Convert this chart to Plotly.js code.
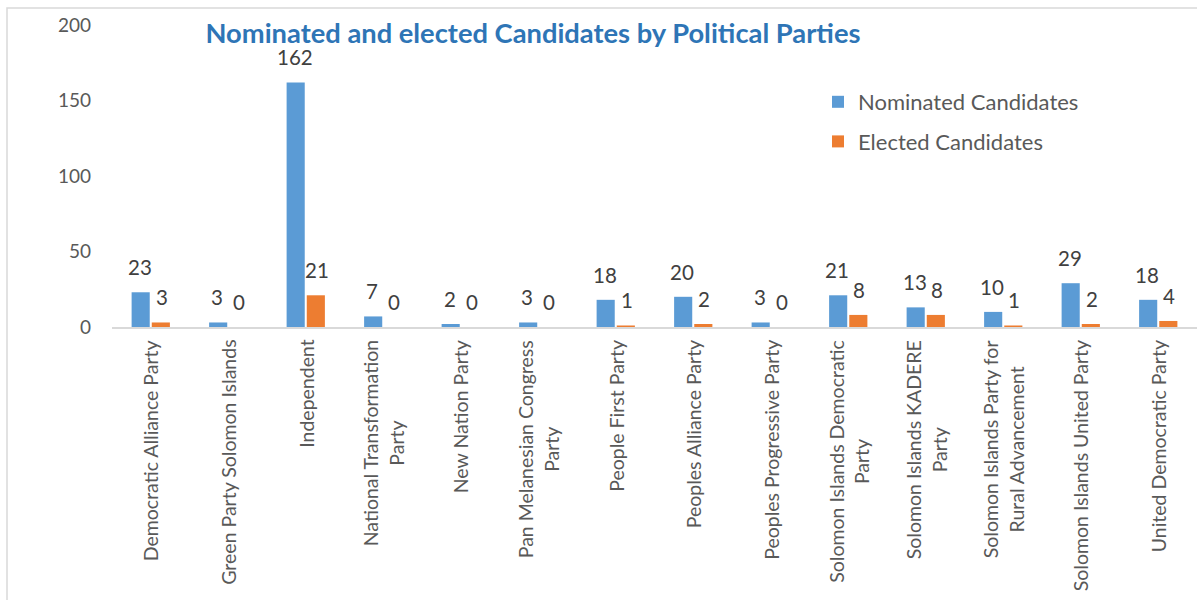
<!DOCTYPE html>
<html><head><meta charset="utf-8">
<script src="https://cdn.plot.ly/plotly-3.0.1.min.js"></script>
<style>html,body{margin:0;padding:0;background:#fff}</style>
</head><body>
<div id="chart" style="width:1197px;height:600px"></div>
<script>
const categories = [
  "Democratic Alliance Party",
  "Green Party Solomon Islands",
  "Independent",
  "National Transformation<br>Party",
  "New Nation Party",
  "Pan Melanesian Congress<br>Party",
  "People First Party",
  "Peoples Alliance Party",
  "Peoples Progressive Party",
  "Solomon Islands Democratic<br>Party",
  "Solomon Islands KADERE<br>Party",
  "Solomon Islands Party for<br>Rural Advancement",
  "Solomon Islands United Party",
  "United Democratic Party"
];
const nominated = [23, 3, 162, 7, 2, 3, 18, 20, 3, 21, 13, 10, 29, 18];
const elected   = [3, 0, 21, 0, 0, 0, 1, 2, 0, 8, 8, 1, 2, 4];
const yTicks = [0, 50, 100, 150, 200];

const FONT = "Lato, 'Open Sans', sans-serif";
const BLUE = "#5B9BD5", ORANGE = "#ED7D31";

const traces = [
  {type: "bar", name: "Nominated Candidates", x: categories, y: nominated,
   marker: {color: BLUE}, legendgroup: "a", hoverinfo: "x+y"},
  {type: "bar", name: "Elected Candidates", x: categories, y: elected,
   marker: {color: ORANGE}, legendgroup: "b", hoverinfo: "x+y"}
];

const ann = [];
[nominated, elected].forEach((arr, s) => {
  arr.forEach((v, i) => {
    ann.push({x: categories[i], y: v, xref: "x", yref: "y", text: String(v),
      showarrow: false, yanchor: "bottom", xshift: s === 0 ? -11 : 11, yshift: 11,
      font: {family: FONT, size: 20.5, color: "#404040"}});
  });
});
categories.forEach((c) => {
  ann.push({x: c, y: 0, xref: "x", yref: "paper", text: c, showarrow: false,
    textangle: -90, xanchor: "center", yanchor: "top", yshift: -11, align: "center",
    font: {family: FONT, size: 19.5, color: "#595959"}});
});

const layout = {
  width: 1197, height: 600,
  margin: {l: 112, r: 0, t: 25, b: 273, pad: 0},
  paper_bgcolor: "#fff", plot_bgcolor: "#fff",
  barmode: "group", bargap: 0.48, bargroupgap: 0.1,
  title: {text: "<b>Nominated and elected Candidates by Political Parties</b>",
    x: 533/1197, xref: "container", xanchor: "center",
    y: 1 - 33/600, yref: "container", yanchor: "middle",
    font: {family: FONT, size: 27.3, color: "#2E75B6"}},
  xaxis: {showticklabels: false, showgrid: false, showline: true, linecolor: "#D9D9D9", linewidth: 1.5,
    ticks: "", zeroline: false},
  yaxis: {range: [0, 200], tickvals: yTicks, ticktext: yTicks.map(String),
    showgrid: false, zeroline: false, showline: false, ticks: "", ticklabelstandoff: 20,
    tickfont: {family: FONT, size: 19, color: "#595959"}},
  showlegend: true,
  legend: {x: (818-112)/1085, y: (327-81)/302, xanchor: "left", yanchor: "top",
    traceorder: "grouped", tracegroupgap: 8, bgcolor: "rgba(0,0,0,0)",
    font: {family: FONT, size: 22, color: "#595959"}},
  annotations: ann,
  shapes: [{type: "rect", xref: "paper", yref: "paper",
    x0: (7-112)/1085, x1: 1.05, y0: -0.95, y1: (327-8)/302,
    line: {color: "#D9D9D9", width: 1.5}, fillcolor: "rgba(0,0,0,0)", layer: "below"}]
};

Plotly.newPlot("chart", traces, layout, {displayModeBar: false, staticPlot: true});
</script>
</body></html>
